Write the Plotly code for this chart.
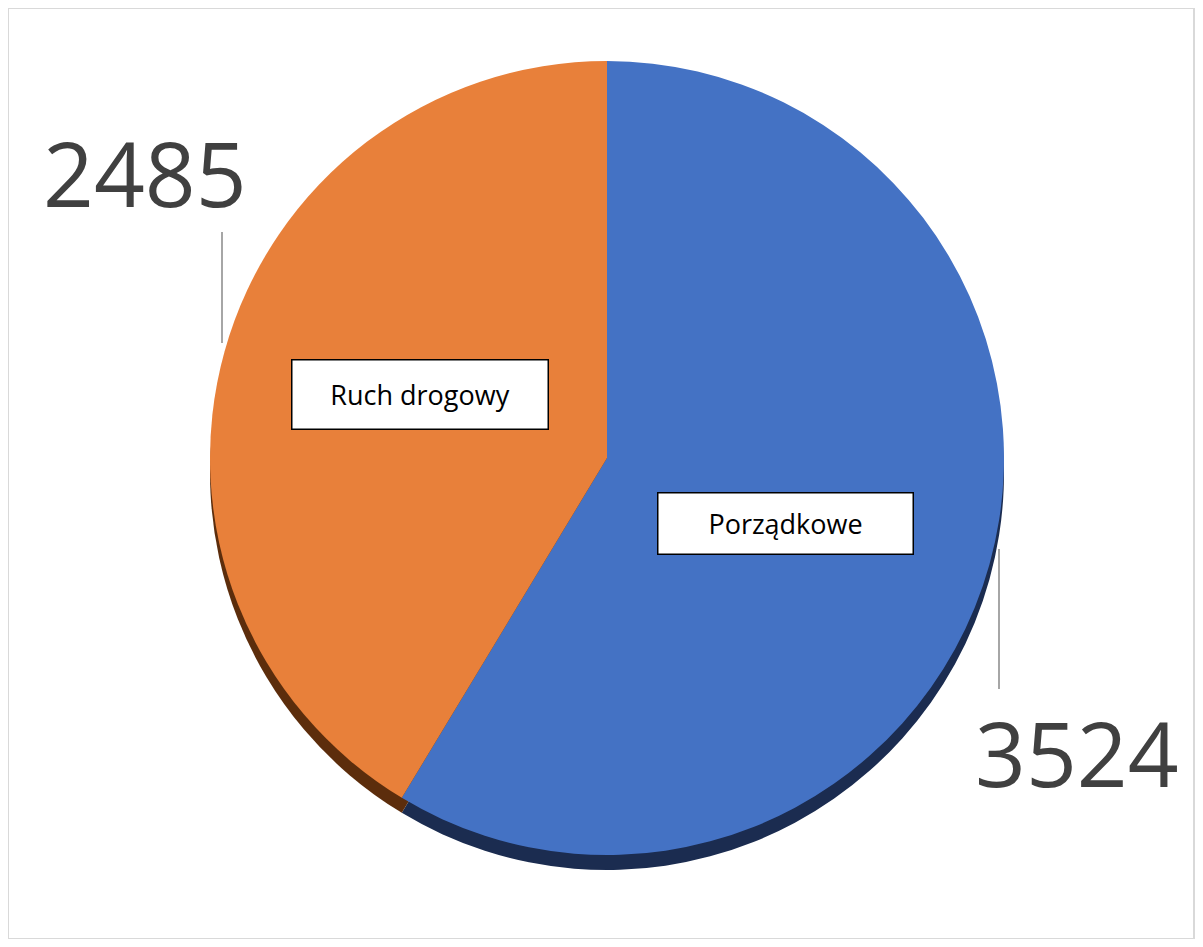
import plotly.graph_objects as go

categories = ["Porządkowe", "Ruch drogowy"]
values = [3524, 2485]
colors = ["#4472C4", "#E8803A"]
shadow_colors = ["#1B2C50", "#5C2D0C"]

# page body has an 8px margin; keep figure inside the window
OFF = 8
W, H = 1203 - 2 * OFF, 947 - 2 * OFF
cx, cy, r = 607, 458, 397
shadow_dy = 15

def px(x):
    return (x - OFF) / W

def py(y):
    return 1 - (y - OFF) / H

fig = go.Figure()

# shadow (3D depth) pie
fig.add_trace(go.Pie(
    labels=categories, values=values, sort=False, direction="clockwise", rotation=0,
    marker=dict(colors=shadow_colors, line=dict(width=0)),
    textinfo="none", hoverinfo="skip", showlegend=False,
    domain=dict(x=[px(cx - r), px(cx + r)], y=[py(cy + shadow_dy + r), py(cy + shadow_dy - r)]),
))
# main pie
fig.add_trace(go.Pie(
    labels=categories, values=values, sort=False, direction="clockwise", rotation=0,
    marker=dict(colors=colors, line=dict(width=0)),
    textinfo="none", showlegend=False,
    domain=dict(x=[px(cx - r), px(cx + r)], y=[py(cy + r), py(cy - r)]),
))

# category label boxes
label_pos = {"Porządkowe": (785, 523, 256, 62), "Ruch drogowy": (420, 394, 257, 70)}
# value label positions (text centre) and leader lines
value_pos = {"Porządkowe": (1077, 752), "Ruch drogowy": (145, 172)}
leader = {"Porządkowe": (999, 549, 999, 689), "Ruch drogowy": (222, 232, 222, 343)}

annotations = []
shapes = []
for cat, val in zip(categories, values):
    lx, ly, bw, bh = label_pos[cat]
    annotations.append(dict(
        x=px(lx), y=py(ly), xref="paper", yref="paper", text=cat, showarrow=False,
        font=dict(family="Open Sans", size=27, color="#000000"),
        bgcolor="#FFFFFF", bordercolor="#000000", borderwidth=1.5,
        width=bw - 4, height=bh - 4, xanchor="center", yanchor="middle",
    ))
    vx, vy = value_pos[cat]
    annotations.append(dict(
        x=px(vx), y=py(vy), xref="paper", yref="paper", text=str(val), showarrow=False,
        font=dict(family="Open Sans", size=89, color="#404040"),
        xanchor="center", yanchor="middle",
    ))
    x0, y0, x1, y1 = leader[cat]
    shapes.append(dict(type="line", xref="paper", yref="paper",
                       x0=px(x0), y0=py(y0), x1=px(x1), y1=py(y1),
                       line=dict(color="#A6A6A6", width=2)))

# outer frame
shapes.append(dict(type="rect", xref="paper", yref="paper",
                   x0=px(8), y0=py(939), x1=px(1194), y1=py(8),
                   line=dict(color="#D9D9D9", width=2), fillcolor="rgba(0,0,0,0)", layer="below"))

fig.update_layout(
    width=W, height=H,
    margin=dict(l=0, r=0, t=0, b=0),
    paper_bgcolor="#FFFFFF", plot_bgcolor="#FFFFFF",
    annotations=annotations, shapes=shapes,
    showlegend=False,
)

fig.write_html("out.html")
